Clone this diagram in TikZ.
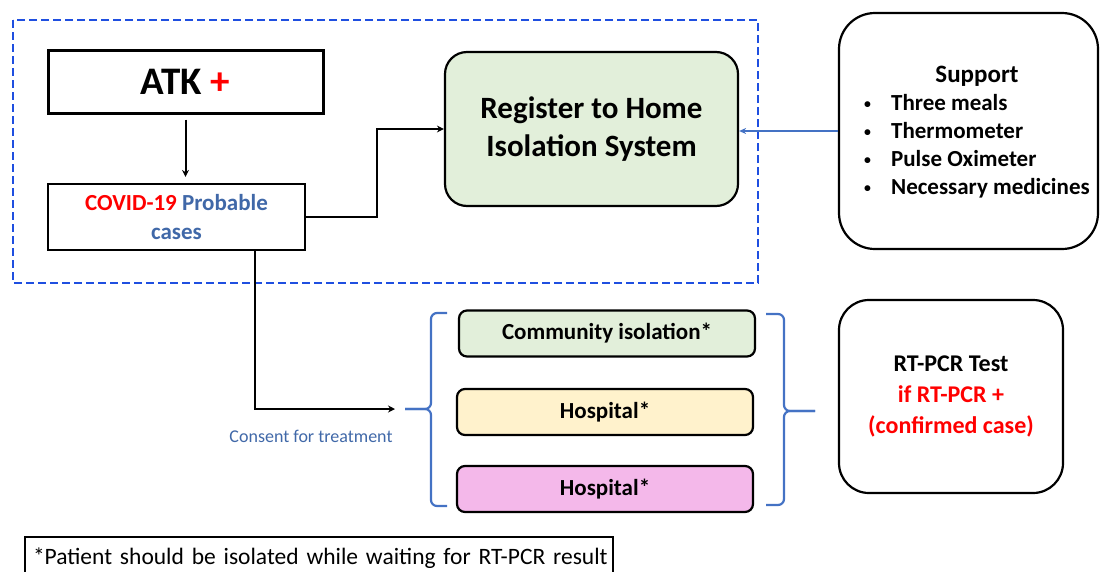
\documentclass[tikz,border=0pt]{standalone}
\usepackage{fontspec}
\setmainfont{Carlito}
\usepackage{tikz}
\usetikzlibrary{arrows.meta}
\usetikzlibrary{positioning}

\definecolor{dashblue}{HTML}{1F4FE0}
\definecolor{lineblue}{HTML}{4472C4}
\definecolor{textblue}{HTML}{4068A8}
\definecolor{greenfill}{HTML}{E2EFDA}
\definecolor{yellowfill}{HTML}{FFF2CC}
\definecolor{pinkfill}{HTML}{F4B8EA}

\newcommand{\fs}[2]{\fontsize{#1}{#2}\selectfont}
\newcommand{\smallbullet}{\raisebox{2pt}{\scalebox{0.6}{\textbullet}}}

\tikzset{
  flowbox/.style={draw,line width=2.2pt,align=center,inner sep=0pt},
  roundbox/.style={flowbox,rounded corners=#1},
  carebox/.style={draw,line width=2.2pt,rounded corners=8pt,minimum width=296pt,
    minimum height=46pt,font=\bfseries\fs{23}{27}},
  flowarrow/.style={line width=2pt,-{Stealth[length=7pt,width=7pt]}},
  bracket/.style={lineblue,line width=2.2pt,rounded corners=6pt},
}

\begin{document}
\begin{tikzpicture}[x=1pt,y=-1pt]
		\useasboundingbox (0,0) rectangle (1100,571);
		% home isolation part
		\draw[dashblue,line width=2.5pt,dash pattern=on 8pt off 4pt] (13,20) rectangle (758,283);
		\node[flowbox,line width=3pt,minimum width=275pt,minimum height=63pt,font=\bfseries\fs{39}{44}]
			(atk) at (185.5,81.5) {ATK \textcolor{red}{+}};
		\node[flowbox,minimum width=257pt,minimum height=66pt,font=\bfseries\fs{23}{29}]
			(covid) at (176.5,217) {\textcolor{red}{COVID-19} \textcolor{textblue}{Probable}\\ \textcolor{textblue}{cases}};
		\node[roundbox=22pt,fill=greenfill,minimum width=293pt,minimum height=154pt,font=\bfseries\fs{31}{38}]
			(register) at (591.5,129) {Register to Home\\Isolation System};
		\node[roundbox=36pt,minimum width=259pt,minimum height=236pt] (support) at (968.5,131) {};
		\node[font=\bfseries\fs{23}{28},inner sep=0pt] (supportlist) at (977,133)
			{\begin{tabular}{@{}l@{\hspace{20pt}}l@{}}
				\multicolumn{2}{c}{\fs{25}{28}Support}\\
				\smallbullet & Three meals\\
				\smallbullet & Thermometer\\
				\smallbullet & Pulse Oximeter\\
				\smallbullet & Necessary medicines
			\end{tabular}};

		\draw[flowarrow,shorten <=5pt,shorten >=6pt] (atk.south) -- (atk.south |- covid.north);
		\draw[flowarrow] (covid.east) -- ++(71,0) |- (register.west);
		\draw[lineblue,line width=2.2pt,-{Stealth[length=7pt,width=6pt]}] (support.west) -- (support.west -| register.east);

		% treatment places
		\node[carebox,fill=greenfill] (community) at (607,333.5) {Community isolation*};
		\node[carebox,fill=yellowfill] (hospital) at (605,412) {Hospital*};
		\node[carebox,fill=pinkfill] (hospitalb) at (605,489) {Hospital*};

		\coordinate (careleft) at (405,409);
		\coordinate (careright) at (815,411);
		\draw[bracket] (447,313) -| (431,409) -- (careleft);
		\draw[bracket] (careleft) -- (431,409) |- (447,506);
		\draw[bracket] (766,314) -| (784,411) -- (careright);
		\draw[bracket] (careright) -- (784,411) |- (766,505);

		\draw[flowarrow,shorten >=10pt] ([xshift=78pt]covid.south) |- (careleft);
		\node[textblue,font=\fs{18}{21},inner sep=0pt] (consent) at (311,436) {Consent for treatment};

		\node[roundbox=30pt,minimum width=224pt,minimum height=193pt,font=\bfseries\fs{24}{31}]
			(rtpcr) at (951,396.5) {RT-PCR Test\\ \textcolor{red}{if RT-PCR +}\\ \textcolor{red}{(confirmed case)}};

		% footnote
		\node[draw,line width=2pt,anchor=north west,minimum height=44pt,inner xsep=8pt,
			text width=572pt,align=left,font=\fs{23.5}{28}] (note) at (24,536)
			{\raisebox{5pt}{*Patient should be isolated while waiting for RT-PCR result}};
	\end{tikzpicture}
\end{document}
